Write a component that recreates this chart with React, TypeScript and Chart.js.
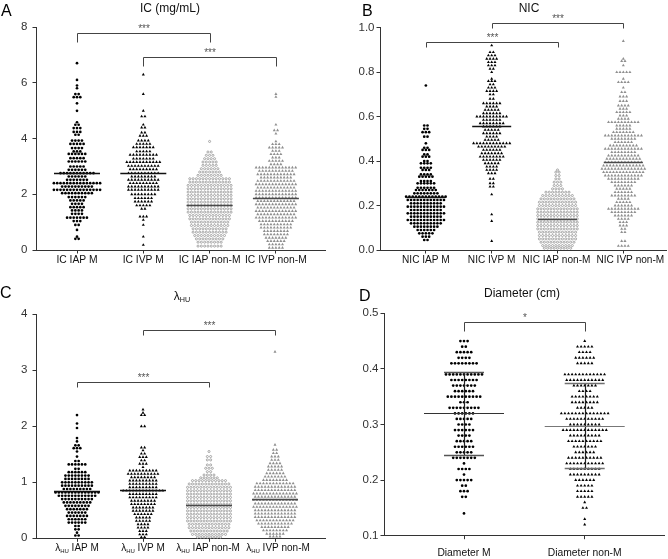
import React, { useEffect, useRef } from "react";
import { Chart, registerables } from "chart.js";

Chart.register(...registerables);

type Level = [number, number]; // [value, number of points read at that value]
type Bracket = [number, number, number, string]; // [from category, to category, y value, label]

// ---------------- Panel A : IC (mg/mL) ----------------
const A_CATS = ["IC IAP M", "IC IVP M", "IC IAP non-M", "IC IVP non-M"];
const A_TICK_VALUES = [0, 2, 4, 6, 8];
const A_TICK_LABELS = ["0", "2", "4", "6", "8"];
const A_IAP_M: Level[] = [[6.71,1],[6.11,1],[5.91,1],[5.81,1],[5.60,2],[5.49,3],[5.27,1],[5.00,1],[4.59,1],[4.50,2],[4.38,3],[4.24,3],[4.14,2],[3.93,4],[3.81,5],[3.66,4],[3.54,3],[3.45,6],[3.30,5],[3.18,6],[3.00,5],[2.88,6],[2.76,11],[2.64,6],[2.52,7],[2.40,15],[2.28,10],[2.16,15],[2.04,10],[1.90,6],[1.78,5],[1.66,4],[1.54,5],[1.42,4],[1.30,4],[1.16,7],[1.04,3],[0.90,2],[0.72,1],[0.48,1],[0.40,2]];
const A_IVP_M: Level[] = [[6.30,1],[5.60,1],[5.00,1],[4.80,2],[4.50,1],[4.40,2],[4.22,2],[4.10,3],[3.93,4],[3.81,5],[3.69,7],[3.54,5],[3.42,9],[3.28,7],[3.16,11],[3.02,10],[2.90,9],[2.76,10],[2.64,8],[2.52,10],[2.40,9],[2.28,10],[2.16,10],[2.00,8],[1.86,6],[1.74,6],[1.60,5],[1.48,2],[1.20,3],[1.08,1],[0.90,1],[0.48,1],[0.18,1]];
const A_IAP_NM: Level[] = [[3.90,1],[3.52,2],[3.40,3],[3.28,4],[3.16,5],[3.04,5],[2.92,6],[2.80,7],[2.68,8],[2.56,13],[2.44,13],[2.32,14],[2.20,14],[2.08,14],[1.96,14],[1.84,14],[1.72,14],[1.60,14],[1.48,14],[1.36,14],[1.24,13],[1.12,13],[1.00,12],[0.88,12],[0.76,11],[0.64,11],[0.52,10],[0.40,9],[0.28,8],[0.14,8]];
const A_IVP_NM: Level[] = [[5.60,1],[5.50,1],[4.50,1],[4.30,2],[4.18,1],[3.90,1],[3.80,3],[3.68,5],[3.56,3],[3.44,4],[3.32,3],[3.20,5],[3.08,4],[2.96,13],[2.84,11],[2.72,12],[2.60,10],[2.48,12],[2.36,13],[2.24,12],[2.12,13],[2.00,13],[1.88,13],[1.76,12],[1.64,13],[1.52,12],[1.40,13],[1.28,12],[1.16,13],[1.04,11],[0.92,10],[0.80,10],[0.68,8],[0.56,8],[0.44,7],[0.32,6],[0.20,5],[0.08,5]];
const A_MEANS = [2.75, 2.77, 1.63, 1.87];
const A_BRACKETS: Bracket[] = [[1, 3, 7.81, "***"], [2, 4, 6.95, "***"]];

// ---------------- Panel B : NIC ----------------
const B_CATS = ["NIC IAP M", "NIC IVP M", "NIC IAP non-M", "NIC IVP non-M"];
const B_TICK_VALUES = [0, 0.2, 0.4, 0.6, 0.8, 1.0];
const B_TICK_LABELS = ["0.0", "0.2", "0.4", "0.6", "0.8", "1.0"];
const B_IAP_M: Level[] = [[0.74,1],[0.56,2],[0.545,2],[0.53,3],[0.51,2],[0.48,1],[0.46,2],[0.45,3],[0.43,2],[0.42,3],[0.40,2],[0.39,4],[0.37,4],[0.36,3],[0.34,4],[0.33,5],[0.31,4],[0.30,6],[0.28,6],[0.27,7],[0.255,8],[0.24,13],[0.225,12],[0.21,10],[0.195,12],[0.18,10],[0.165,12],[0.15,10],[0.135,12],[0.12,10],[0.105,8],[0.09,6],[0.075,5],[0.06,3],[0.045,2]];
const B_IVP_M: Level[] = [[0.92,1],[0.89,2],[0.875,3],[0.86,4],[0.845,3],[0.83,3],[0.815,2],[0.80,1],[0.77,1],[0.76,3],[0.745,2],[0.73,3],[0.715,4],[0.70,2],[0.68,2],[0.66,6],[0.645,4],[0.63,5],[0.615,6],[0.60,10],[0.585,6],[0.57,8],[0.555,6],[0.54,5],[0.525,6],[0.51,4],[0.495,5],[0.48,12],[0.465,9],[0.45,6],[0.435,7],[0.42,8],[0.405,6],[0.39,5],[0.375,4],[0.36,4],[0.345,3],[0.32,2],[0.30,2],[0.285,2],[0.25,1],[0.16,1],[0.13,1],[0.04,1]];
const B_IAP_NM: Level[] = [[0.36,1],[0.35,2],[0.335,2],[0.32,2],[0.305,3],[0.29,3],[0.275,4],[0.26,8],[0.245,10],[0.23,11],[0.215,12],[0.20,12],[0.185,13],[0.17,13],[0.155,13],[0.14,13],[0.125,13],[0.11,13],[0.095,13],[0.08,12],[0.065,12],[0.05,12],[0.035,11],[0.02,10],[0.008,9]];
const B_IVP_NM: Level[] = [[0.94,1],[0.86,1],[0.85,2],[0.83,1],[0.80,5],[0.77,1],[0.755,4],[0.73,1],[0.71,2],[0.69,3],[0.67,3],[0.65,4],[0.635,3],[0.62,5],[0.605,3],[0.59,4],[0.575,10],[0.56,5],[0.545,5],[0.53,7],[0.515,12],[0.50,8],[0.485,6],[0.47,9],[0.455,12],[0.44,8],[0.425,10],[0.41,11],[0.395,12],[0.38,13],[0.365,14],[0.35,13],[0.335,12],[0.32,10],[0.305,8],[0.29,6],[0.275,5],[0.26,6],[0.245,8],[0.23,4],[0.215,5],[0.20,6],[0.185,10],[0.17,8],[0.155,6],[0.14,4],[0.125,3],[0.11,3],[0.095,2],[0.08,2],[0.04,2],[0.018,4]];
const B_MEANS = [0.24, 0.557, 0.14, 0.397];
const B_BRACKETS: Bracket[] = [[2, 4, 1.023, "***"], [1, 3, 0.937, "***"]];

// ---------------- Panel C : λHU ----------------
const C_CATS = ["λ_{HU} IAP M", "λ_{HU} IVP M", "λ_{HU} IAP non-M", "λ_{HU} IVP non-M"];
const C_TICK_VALUES = [0, 1, 2, 3, 4];
const C_TICK_LABELS = ["0", "1", "2", "3", "4"];
const C_IAP_M: Level[] = [[2.20,1],[2.05,1],[1.97,1],[1.79,1],[1.73,1],[1.66,2],[1.61,3],[1.55,1],[1.46,1],[1.38,2],[1.32,6],[1.24,2],[1.18,6],[1.12,8],[1.06,8],[1.00,10],[0.94,10],[0.88,9],[0.82,14],[0.76,12],[0.70,10],[0.64,9],[0.58,8],[0.52,7],[0.46,6],[0.40,7],[0.34,6],[0.28,6],[0.22,2],[0.16,2],[0.10,1],[0.05,2]];
const C_IVP_M: Level[] = [[2.30,1],[2.24,1],[2.20,2],[2.00,2],[1.62,2],[1.57,1],[1.51,2],[1.45,3],[1.39,2],[1.33,3],[1.27,1],[1.21,9],[1.15,10],[1.09,8],[1.03,9],[0.97,9],[0.91,9],[0.85,13],[0.79,9],[0.73,9],[0.67,8],[0.61,8],[0.55,7],[0.49,7],[0.43,6],[0.37,5],[0.31,5],[0.25,4],[0.19,4],[0.13,3],[0.07,3],[0.02,2]];
const C_IAP_NM: Level[] = [[1.55,1],[1.46,2],[1.40,2],[1.31,2],[1.25,3],[1.19,2],[1.13,4],[1.08,6],[1.03,11],[0.97,13],[0.91,14],[0.85,14],[0.79,14],[0.73,14],[0.67,14],[0.61,14],[0.55,14],[0.49,14],[0.43,14],[0.37,14],[0.31,14],[0.25,13],[0.19,13],[0.13,12],[0.07,11],[0.02,8]];
const C_IVP_NM: Level[] = [[3.33,1],[1.67,1],[1.58,2],[1.52,2],[1.46,3],[1.40,3],[1.34,4],[1.28,5],[1.22,5],[1.16,6],[1.10,7],[1.04,8],[0.98,12],[0.92,13],[0.86,13],[0.80,14],[0.74,13],[0.68,14],[0.62,13],[0.56,14],[0.50,13],[0.44,13],[0.38,13],[0.32,12],[0.26,11],[0.20,9],[0.14,8],[0.08,6],[0.03,4]];
const C_MEANS = [0.85, 0.86, 0.59, 0.70];
const C_BRACKETS: Bracket[] = [[2, 4, 3.72, "***"], [1, 3, 2.80, "***"]];

// ---------------- Panel D : Diameter (cm) ----------------
const D_CATS = ["Diameter M", "Diameter non-M"];
const D_TICK_VALUES = [0.1, 0.2, 0.3, 0.4, 0.5];
const D_TICK_LABELS = ["0.1", "0.2", "0.3", "0.4", "0.5"];
const D_M: Level[] = [[0.45,3],[0.44,2],[0.43,5],[0.42,4],[0.41,8],[0.39,11],[0.38,8],[0.37,7],[0.36,6],[0.35,10],[0.34,3],[0.33,9],[0.32,6],[0.31,5],[0.30,4],[0.29,6],[0.28,4],[0.27,5],[0.26,6],[0.25,5],[0.24,7],[0.23,1],[0.22,4],[0.21,1],[0.20,5],[0.19,2],[0.18,3],[0.17,2],[0.14,1]];
const D_NM: Level[] = [[0.45,1],[0.44,5],[0.43,4],[0.42,6],[0.41,5],[0.39,12],[0.38,11],[0.37,7],[0.36,4],[0.35,8],[0.34,8],[0.33,5],[0.32,14],[0.31,11],[0.30,9],[0.29,13],[0.28,9],[0.27,10],[0.26,7],[0.25,6],[0.24,10],[0.23,11],[0.22,9],[0.21,9],[0.20,6],[0.19,5],[0.18,5],[0.17,5],[0.16,1],[0.15,2],[0.13,1],[0.12,1]];
const D_MEANS = [0.32, 0.298];
const D_SDS = [0.075, 0.076];
const D_BRACKETS: Bracket[] = [[1, 2, 0.484, "*"]];

// ---------------- styles & layout ----------------
const FONT = '"Liberation Sans", Arial, Helvetica, sans-serif';

const MARKERS: Record<string, any> = {
  dot: { style: "circle", r: 1.35, fill: "#000000", stroke: "#000000", bw: 0 },
  tri: { style: "triangle", r: 1.75, fill: "#000000", stroke: "#000000", bw: 0 },
  ring: { style: "circle", r: 1.05, fill: "#ffffff", stroke: "#8f8f8f", bw: 0.75 },
  gtri: { style: "triangle", r: 1.75, fill: "#8f8f8f", stroke: "#8f8f8f", bw: 0 },
};

interface PanelSpec {
  letter: string; title: string; cats: string[]; groups: Level[][]; markers: string[];
  means: number[]; sds?: number[]; yTicks: number[]; yLabels: string[]; brackets: Bracket[];
  yMin: number; yMax: number;
  box: { left: number; top: number; w: number; h: number };
  plot: { l: number; r: number; t: number; b: number };
  cat1: number; step: number; gap: number; tickPad: number; labelDy: number; labelDx: number[]; labelSize: number;
  titleX: number; titleY: number; letterX: number; letterY: number;
  meanW: number; sdW?: number; legLen: number;
}

const PANELS: PanelSpec[] = [
  {
    letter: "A", title: "IC (mg/mL)", cats: A_CATS, groups: [A_IAP_M, A_IVP_M, A_IAP_NM, A_IVP_NM],
    markers: ["dot", "tri", "ring", "gtri"], means: A_MEANS, yTicks: A_TICK_VALUES, yLabels: A_TICK_LABELS,
    brackets: A_BRACKETS, yMin: 0, yMax: 8,
    box: { left: 0, top: 0, w: 334, h: 280 }, plot: { l: 36, r: 325, t: 27.3, b: 250 },
    cat1: 77, step: 66.3, gap: 3.3, tickPad: 5, labelDy: 9, labelDx: [0, 0, 0, 0], labelSize: 10.3,
    titleX: 170, titleY: 7.5, letterX: 1, letterY: 10, meanW: 46, legLen: 9,
  },
  {
    letter: "B", title: "NIC", cats: B_CATS, groups: [B_IAP_M, B_IVP_M, B_IAP_NM, B_IVP_NM],
    markers: ["dot", "tri", "ring", "gtri"], means: B_MEANS, yTicks: B_TICK_VALUES, yLabels: B_TICK_LABELS,
    brackets: B_BRACKETS, yMin: 0, yMax: 1,
    box: { left: 334, top: 0, w: 334, h: 280 }, plot: { l: 46, r: 333, t: 27.7, b: 250 },
    cat1: 92, step: 66, gap: 3.3, tickPad: 2, labelDy: 9, labelDx: [0, 0, -1, 7], labelSize: 10.1,
    titleX: 195, titleY: 7.5, letterX: 28, letterY: 10, meanW: 39, legLen: 5,
  },
  {
    letter: "C", title: "λ_{HU}", cats: C_CATS, groups: [C_IAP_M, C_IVP_M, C_IAP_NM, C_IVP_NM],
    markers: ["dot", "tri", "ring", "gtri"], means: C_MEANS, yTicks: C_TICK_VALUES, yLabels: C_TICK_LABELS,
    brackets: C_BRACKETS, yMin: 0, yMax: 4,
    box: { left: 0, top: 280, w: 334, h: 279 }, plot: { l: 36, r: 325, t: 34.3, b: 258.3 },
    cat1: 77, step: 66, gap: 3.3, tickPad: 5, labelDy: 9.5, labelDx: [0, 0, -1, 3], labelSize: 10,
    titleX: 182, titleY: 15.5, letterX: 0, letterY: 12, meanW: 46, legLen: 5,
  },
  {
    letter: "D", title: "Diameter (cm)", cats: D_CATS, groups: [D_M, D_NM],
    markers: ["dot", "tri"], means: D_MEANS, sds: D_SDS, yTicks: D_TICK_VALUES, yLabels: D_TICK_LABELS,
    brackets: D_BRACKETS, yMin: 0.1, yMax: 0.5,
    box: { left: 334, top: 280, w: 334, h: 279 }, plot: { l: 50, r: 330, t: 33.3, b: 255.7 },
    cat1: 130, step: 120.7, gap: 3.6, tickPad: 2, labelDy: 16.5, labelDx: [0, 0], labelSize: 10.3,
    titleX: 188, titleY: 13, letterX: 25, letterY: 15.5, meanW: 80, sdW: 40, legLen: 9,
  },
];

function swarm(levels: Level[], cat: number, unitPerPx: number, gap: number) {
  const pts: { x: number; y: number }[] = [];
  for (const [v, n] of levels) {
    for (let i = 0; i < n; i++) pts.push({ x: cat + (i - (n - 1) / 2) * gap * unitPerPx, y: v });
  }
  return pts;
}

function parseRich(s: string) {
  const out: { t: string; sub: boolean }[] = [];
  const re = /_\{([^}]*)\}/g;
  let last = 0;
  let m: RegExpExecArray | null;
  while ((m = re.exec(s))) {
    if (m.index > last) out.push({ t: s.slice(last, m.index), sub: false });
    out.push({ t: m[1], sub: true });
    last = m.index + m[0].length;
  }
  if (last < s.length) out.push({ t: s.slice(last), sub: false });
  return out;
}

function drawRich(ctx: CanvasRenderingContext2D, s: string, x: number, yMid: number, size: number, color: string, align: "center" | "left") {
  const segs = parseRich(s);
  const subSize = size * 0.6;
  const widths = segs.map((g) => {
    ctx.font = `${g.sub ? subSize : size}px ${FONT}`;
    return ctx.measureText(g.t).width;
  });
  const total = widths.reduce((a, b) => a + b, 0);
  let cx = align === "center" ? x - total / 2 : x;
  const base = yMid + size * 0.36;
  ctx.fillStyle = color;
  ctx.textAlign = "left";
  ctx.textBaseline = "alphabetic";
  segs.forEach((g, i) => {
    ctx.font = `${g.sub ? subSize : size}px ${FONT}`;
    ctx.fillText(g.t, cx, g.sub ? base + size * 0.2 : base);
    cx += widths[i];
  });
}

function hline(ctx: CanvasRenderingContext2D, x1: number, x2: number, y: number, color: string, w: number) {
  ctx.strokeStyle = color;
  ctx.lineWidth = w;
  ctx.beginPath();
  ctx.moveTo(x1, y);
  ctx.lineTo(x2, y);
  ctx.stroke();
}

function Panel({ spec }: { spec: PanelSpec }) {
  const ref = useRef<HTMLCanvasElement>(null);
  useEffect(() => {
    const canvas = ref.current!;
    const { w, h } = spec.box;
    const { l, r, t, b } = spec.plot;
    const xMin = 1 - (spec.cat1 - l) / spec.step;
    const xMax = xMin + (r - l) / spec.step;
    const unitPerPx = 1 / spec.step;

    const datasets = spec.groups.map((g, i) => {
      const mk = MARKERS[spec.markers[i]];
      return {
        data: swarm(g, i + 1, unitPerPx, spec.gap),
        pointStyle: mk.style,
        pointRadius: mk.r,
        pointHoverRadius: mk.r,
        pointBackgroundColor: mk.fill,
        pointBorderColor: mk.stroke,
        pointBorderWidth: mk.bw,
        showLine: false,
        clip: false as any,
      };
    });

    const overlay = {
      id: "overlay" + spec.letter,
      afterDatasetsDraw(chart: any) {
        const ctx: CanvasRenderingContext2D = chart.ctx;
        const xs = chart.scales.x;
        const ys = chart.scales.y;
        ctx.save();
        // mean lines (and SD for panel D)
        spec.means.forEach((m, i) => {
          const cx = xs.getPixelForValue(i + 1);
          const py = Math.round(ys.getPixelForValue(m)) + 0.5;
          if (spec.sds) {
            const sd = spec.sds[i];
            const pHi = Math.round(ys.getPixelForValue(m + sd)) + 0.5;
            const pLo = Math.round(ys.getPixelForValue(m - sd)) + 0.5;
            const sdCol = i === 0 ? "#555555" : "#707070";
            ctx.strokeStyle = "#222222";
            ctx.lineWidth = 1.2;
            ctx.beginPath();
            ctx.moveTo(Math.round(cx) + 0.5, pHi);
            ctx.lineTo(Math.round(cx) + 0.5, pLo);
            ctx.stroke();
            hline(ctx, cx - spec.sdW! / 2, cx + spec.sdW! / 2, pHi, sdCol, 1.6);
            hline(ctx, cx - spec.sdW! / 2, cx + spec.sdW! / 2, pLo, sdCol, 1.6);
            hline(ctx, cx - spec.meanW / 2, cx + spec.meanW / 2, py, i === 0 ? "#333333" : "#777777", 1.2);
          } else {
            hline(ctx, cx - spec.meanW / 2, cx + spec.meanW / 2, py, i < 2 ? "#111111" : "#4a4a4a", 1.3);
          }
        });
        // significance brackets
        spec.brackets.forEach(([c1, c2, yv, label]) => {
          const x1 = Math.round(xs.getPixelForValue(c1)) + 0.5;
          const x2 = Math.round(xs.getPixelForValue(c2)) + 0.5;
          const py = Math.round(ys.getPixelForValue(yv)) + 0.5;
          ctx.strokeStyle = "#444444";
          ctx.lineWidth = 1;
          ctx.beginPath();
          ctx.moveTo(x1, py + spec.legLen);
          ctx.lineTo(x1, py);
          ctx.lineTo(x2, py);
          ctx.lineTo(x2, py + spec.legLen);
          ctx.stroke();
          ctx.fillStyle = "#555555";
          ctx.font = `10px ${FONT}`;
          ctx.textAlign = "center";
          ctx.textBaseline = "alphabetic";
          ctx.fillText(label, (x1 + x2) / 2, py - 1.5);
        });
        // category labels
        spec.cats.forEach((c, i) => {
          const cx = xs.getPixelForValue(i + 1) + spec.labelDx[i];
          drawRich(ctx, c, cx, b + spec.labelDy, spec.labelSize, "#111111", "center");
        });
        // title and panel letter
        drawRich(ctx, spec.title, spec.titleX, spec.titleY, 12, "#111111", "center");
        drawRich(ctx, spec.letter, spec.letterX, spec.letterY, 16, "#000000", "left");
        ctx.restore();
      },
    };

    const axisGrid = { display: true, drawOnChartArea: false, drawTicks: true, tickLength: 3.5, color: "#333333", lineWidth: 1 };
    const chart = new Chart(canvas, {
      type: "scatter",
      data: { datasets: datasets as any },
      options: {
        responsive: false,
        animation: false,
        events: [],
        layout: { padding: { left: 0, top: t, right: w - r, bottom: 0 } },
        plugins: { legend: { display: false }, tooltip: { enabled: false }, title: { display: false } },
        scales: {
          x: {
            type: "linear",
            min: xMin,
            max: xMax,
            afterBuildTicks: (s: any) => { s.ticks = spec.cats.map((_, i) => ({ value: i + 1 })); },
            afterFit: (s: any) => { s.height = h - b; },
            ticks: { display: false },
            grid: axisGrid,
            border: { display: true, color: "#333333", width: 1 },
          },
          y: {
            type: "linear",
            min: spec.yMin,
            max: spec.yMax,
            afterBuildTicks: (s: any) => { s.ticks = spec.yTicks.map((v) => ({ value: v })); },
            afterFit: (s: any) => { s.width = l; },
            ticks: {
              callback: (v: any) => {
                const k = spec.yTicks.findIndex((tv) => Math.abs(tv - Number(v)) < 1e-9);
                return k >= 0 ? spec.yLabels[k] : "";
              },
              font: { family: FONT, size: 11.5 },
              color: "#333333",
              padding: spec.tickPad,
            },
            grid: axisGrid,
            border: { display: true, color: "#333333", width: 1 },
          },
        },
      } as any,
      plugins: [overlay],
    });
    return () => chart.destroy();
  }, [spec]);

  return (
    <canvas
      ref={ref}
      width={spec.box.w}
      height={spec.box.h}
      style={{ position: "absolute", left: spec.box.left, top: spec.box.top, width: spec.box.w, height: spec.box.h }}
    />
  );
}

export default function App() {
  return (
    <div style={{ position: "absolute", left: 0, top: 0, width: 668, height: 559, background: "#ffffff", overflow: "hidden" }}>
      {PANELS.map((p) => (
        <Panel key={p.letter} spec={p} />
      ))}
    </div>
  );
}
